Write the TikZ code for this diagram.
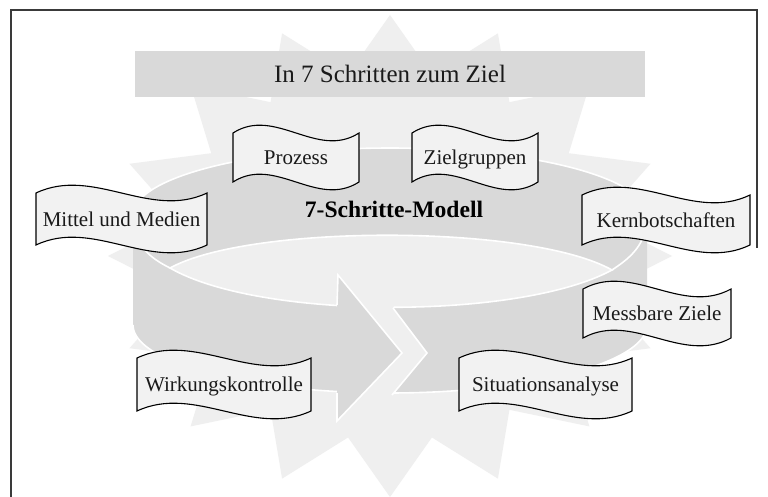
\documentclass[tikz,border=0pt]{standalone}
\usepackage{fontspec}
\setmainfont{Liberation Serif}
\definecolor{starc}{HTML}{EFEFEF}
\definecolor{darkc}{HTML}{D9D9D9}
\definecolor{labelc}{HTML}{F2F2F2}
\definecolor{framec}{HTML}{3A3A3A}
\definecolor{textc}{HTML}{1A1A1A}
\tikzset{
  starfill/.style={fill=starc},
  bodyfill/.style={fill=darkc},
  whiteline/.style={draw=white, line width=1.6pt, line join=miter},
  lensstyle/.style={fill=starc, draw=white, line width=1.6pt},
  arrowstyle/.style={fill=darkc, draw=white, line width=1.6pt, line join=miter},
  labelbox/.style={fill=labelc, draw=black, line width=1.1pt, line join=miter},
  labeltext/.style={font=\fontsize{21}{25}\selectfont, text=textc, inner sep=0pt},
  titlebar/.style={fill=darkc, minimum width=510pt, minimum height=46pt, inner sep=0pt,
    font=\fontsize{25}{30}\selectfont, text=textc},
  modeltext/.style={font=\bfseries\fontsize{23.6}{28}\selectfont, text=black, inner sep=0pt},
  frameline/.style={draw=framec, line width=1.5pt},
}
% name, x1, x2, y1 (top corners), y2 (bottom corners), text
\newcommand\wavelabel[6]{%
  \pgfmathsetmacro\wlXa{#2+(#3-#2)/3}%
  \pgfmathsetmacro\wlXb{#2+2*(#3-#2)/3}%
  \pgfmathsetmacro\wlYa{#4-27}\pgfmathsetmacro\wlYb{#4+27}%
  \pgfmathsetmacro\wlYc{#5-27}\pgfmathsetmacro\wlYd{#5+27}%
  \pgfmathsetmacro\wlXm{(#2+#3)/2}\pgfmathsetmacro\wlYm{(#4+#5)/2+7}%
  \draw[labelbox] (#2,#4) .. controls (\wlXa,\wlYa) and (\wlXb,\wlYb) .. (#3,#4)
     -- (#3,#5) .. controls (\wlXb,\wlYd) and (\wlXa,\wlYc) .. (#2,#5) -- cycle;
  \node[labeltext, anchor=base] (#1) at (\wlXm,\wlYm) {#6};
}
\begin{document}
\begin{tikzpicture}[x=1pt,y=-1pt]
\useasboundingbox (0,0) rectangle (768,497);
\fill[white] (0,0) rectangle (768,497);
% star burst
\fill[starfill] (390,15) \foreach \i in {0,...,15}{
  -- ({390+215*cos(-78.75+22.5*\i)},{256+185*sin(-78.75+22.5*\i)})
  -- ({390+282*cos(-67.5+22.5*\i)},{256+241*sin(-67.5+22.5*\i)}) } -- cycle;
% title bar
\node[titlebar] (title) at (390,74) {In 7 Schritten zum Ziel};
% cylinder body
\fill[bodyfill] plot[domain=180:0,samples=90] ({390+257*cos(\x)},{215-67*sin(\x)})
  -- plot[domain=0:-180,samples=90] ({390+257*cos(\x)},{325-68*sin(\x)}) -- cycle;
\draw[whiteline] plot[domain=180:360,samples=90] ({390+257*cos(\x)},{325-68*sin(\x)});
\draw[whiteline] (170,268) .. controls (150,258) and (133,245) .. (133,215)
  -- plot[domain=180:0,samples=90] ({390+257*cos(\x)},{215-67*sin(\x)})
  .. controls (647,245) and (630,258) .. (612,270);
% inner lens
\filldraw[lensstyle] (170,268) .. controls (250,224) and (530,224) .. (612,270)
  .. controls (520,320) and (260,320) .. (170,268) -- cycle;
% gap between head and tail
\fill[starfill] (337,296) -- (398,296) -- (393,308) -- (427,353) -- (392,395)
  -- (392,425) -- (337,425) -- cycle;
\draw[whiteline] (393,308) -- (427,353) -- (392,395);
% arrow head
\filldraw[arrowstyle] (337,305) -- (338,275) -- (402,353) -- (337,421) -- (337,393);
% model title
\node[modeltext, anchor=base] (model) at (394,218) {7-Schritte-Modell};
% labels
\wavelabel{prozess}{233}{359}{133}{182}{Prozess}
\wavelabel{zielgruppen}{412}{538}{133}{182}{Zielgruppen}
\wavelabel{mittel}{36}{207}{193}{245}{Mittel und Medien}
\wavelabel{kern}{582}{750}{195}{245}{Kernbotschaften}
\wavelabel{messbar}{583}{731}{289}{338}{Messbare Ziele}
\wavelabel{wirkung}{137}{311}{358}{411}{Wirkungskontrolle}
\wavelabel{situation}{459}{632}{358}{411}{Situationsanalyse}
% frame
\draw[frameline] (11,497) -- (11,10) -- (757,10) -- (757,248);
\end{tikzpicture}
\end{document}
